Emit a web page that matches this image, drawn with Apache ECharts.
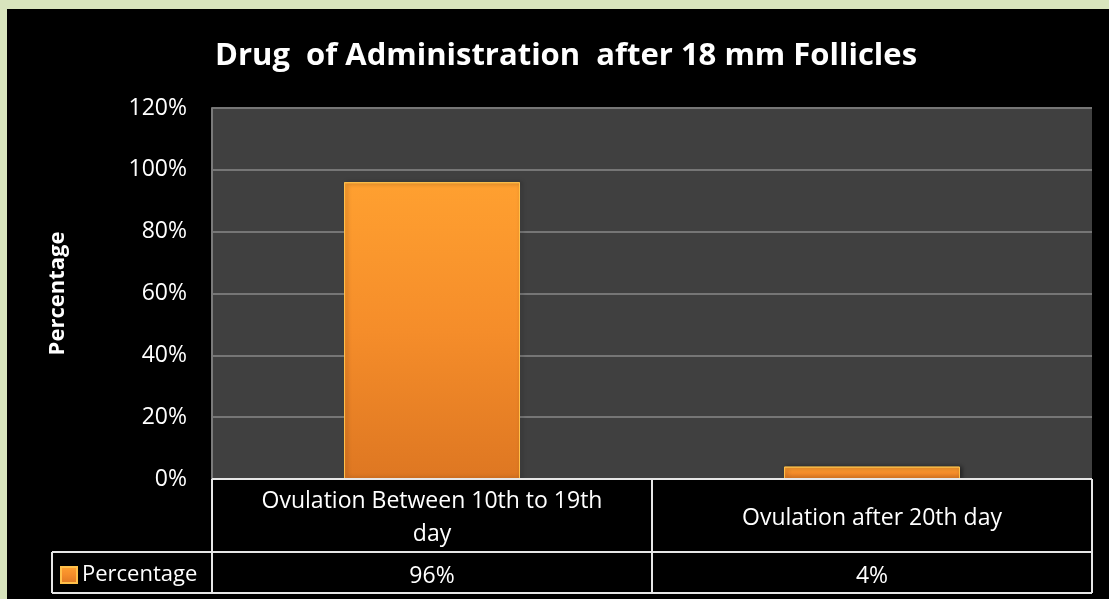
<!DOCTYPE html>
<html>
<head>
<meta charset="utf-8">
<script src="https://cdn.jsdelivr.net/npm/echarts@6/dist/echarts.min.js"></script>
<style>
  html, body { margin: 0; padding: 0; width: 1109px; height: 599px; background: #d8e4bd; overflow: hidden; }
  #chart { position: absolute; left: 7px; top: 9px; width: 1102px; height: 590px; background: #000; }
</style>
</head>
<body>
<div id="chart"></div>
<script>
// Chart data
const categories = ['Ovulation Between 10th to 19th\nday', 'Ovulation after 20th day'];
const percentage = [96, 4];
const yTicks = [0, 20, 40, 60, 80, 100, 120];
const seriesName = 'Percentage';

const FONT = '"Open Sans", sans-serif';
const chart = echarts.init(document.getElementById('chart'));

// layout of the plot area (pixels inside the chart box)
const G = { left: 205, top: 99, right: 17, bottom: 120 };
const W = 1102, H = 590;
const plotL = G.left, plotR = W - G.right, plotB = H - G.bottom;
const row1B = 543, row2B = 584, legendL = 45;
const midX = (plotL + plotR) / 2;

const barGradient = new echarts.graphic.LinearGradient(0, 0, 0, 1, [
  { offset: 0, color: '#ffa030' },
  { offset: 0.5, color: '#f58d2a' },
  { offset: 1, color: '#de7722' }
]);

const lineStyle = { stroke: '#e6e6e6', lineWidth: 2 };
const tableLines = [
  [plotL, plotB, plotR, plotB],
  [plotL, row1B, plotR, row1B],
  [legendL, row1B, plotL, row1B],
  [legendL, row2B, plotR, row2B],
  [legendL, row1B, legendL, row2B],
  [plotL, plotB, plotL, row2B],
  [midX, plotB, midX, row2B],
  [plotR, plotB, plotR, row2B]
].map(([x1, y1, x2, y2]) => ({
  type: 'line', silent: true, z: 10,
  shape: { x1, y1, x2, y2 }, style: lineStyle
}));

chart.setOption({
  backgroundColor: '#000',
  title: {
    text: 'Drug  of Administration  after 18 mm Follicles',
    left: 203, top: 27,
    textStyle: { color: '#fff', fontFamily: FONT, fontWeight: 'bold', fontSize: 31 }
  },
  legend: {
    left: 48, top: 550,
    itemWidth: 16, itemHeight: 16, itemGap: 4,
    icon: 'rect',
    data: [seriesName],
    textStyle: { color: '#fff', fontFamily: FONT, fontSize: 22, padding: [0, 0, 0, 0] }
  },
  grid: {
    left: G.left, top: G.top, right: G.right, bottom: G.bottom,
    show: true, backgroundColor: '#404040', borderWidth: 0
  },
  xAxis: [
    {
      type: 'category', data: categories,
      axisLine: { show: false }, axisTick: { show: false },
      axisLabel: {
        interval: 0, hideOverlap: false,
        color: '#fff', fontFamily: FONT, fontSize: 23, lineHeight: 33,
        margin: 39, verticalAlign: 'middle', align: 'center'
      }
    },
    {
      type: 'category', data: categories, position: 'bottom',
      axisLine: { show: false }, axisTick: { show: false },
      axisLabel: {
        interval: 0, hideOverlap: false,
        color: '#fff', fontFamily: FONT, fontSize: 23,
        margin: 97, verticalAlign: 'middle',
        formatter: (v, i) => percentage[i] + '%'
      }
    }
  ],
  yAxis: {
    type: 'value', min: yTicks[0], max: yTicks[yTicks.length - 1], interval: 20,
    name: 'Percentage', nameLocation: 'middle', nameGap: 143,
    nameTextStyle: { color: '#fff', fontFamily: FONT, fontWeight: 'bold', fontSize: 22 },
    axisLine: { show: true, lineStyle: { color: '#7a7a7a', width: 2 } },
    axisTick: { show: false },
    axisLabel: { color: '#fff', fontFamily: FONT, fontSize: 23, margin: 25, formatter: '{value}%' },
    splitLine: { lineStyle: { color: '#767676', width: 2 } }
  },
  series: [{
    name: seriesName, type: 'bar', xAxisIndex: 0,
    data: percentage, barWidth: '40%',
    itemStyle: {
      color: barGradient,
      borderColor: '#ffc04a', borderWidth: 1,
      shadowColor: 'rgba(0,0,0,0.45)', shadowBlur: 4, shadowOffsetX: 2, shadowOffsetY: 0
    }
  }],
  graphic: tableLines
});
</script>
</body>
</html>
